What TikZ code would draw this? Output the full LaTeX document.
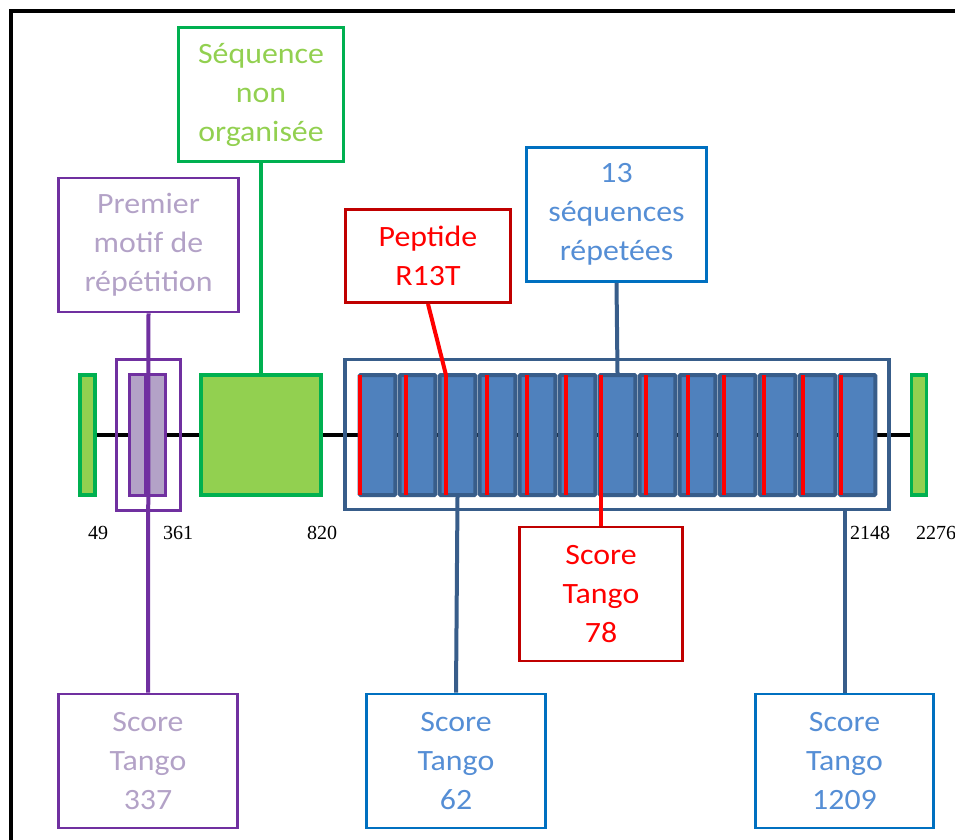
\documentclass[tikz,border=0pt]{standalone}
\usepackage{fontspec}
\setmainfont{Carlito}[FakeStretch=1.08]
\newfontfamily\numfont{Liberation Serif}
\usetikzlibrary{positioning}

\definecolor{greenfill}{HTML}{92D050}
\definecolor{greenline}{HTML}{00B050}
\definecolor{purpleline}{HTML}{7030A0}
\definecolor{purplefill}{HTML}{B3A2C7}
\definecolor{bluefill}{HTML}{4F81BD}
\definecolor{blueline}{HTML}{385D8A}
\definecolor{boxblue}{HTML}{0070C0}
\definecolor{textblue}{HTML}{558ED5}
\definecolor{darkred}{HTML}{C00000}

\begin{document}
\begin{tikzpicture}[
  x=1pt,y=-1pt,
  callout/.style={draw,line width=2.8pt,align=center,inner sep=0pt,minimum height=134,
    font=\fontsize{29.5}{39}\selectfont},
  greenblock/.style={draw=greenline,fill=greenfill,line width=3.5pt,inner sep=0pt,minimum height=120},
  repunit/.style={draw=blueline,fill=bluefill,line width=4pt,rounded corners=1pt,inner sep=0pt,
    minimum width=35.6,minimum height=120},
  firstunit/.style={draw=purpleline,fill=purplefill,line width=3pt,inner sep=0pt,minimum height=121},
  stripe/.style={red,line width=4pt},
  link/.style={line width=4pt},
  residue/.style={font=\numfont\fontsize{20}{20}\selectfont,inner sep=0pt}
]
\useasboundingbox (0,0) rectangle (955,839);
\draw[line width=4pt] (11,11) rectangle (962,850);

% protein backbone and domains
\node[greenblock,minimum width=15] (gl) at (87.5,435) {};
\node[greenblock,minimum width=15] (gr) at (919,435) {};
\draw[link,black] (gl.east) -- (gr.west);
\node[greenblock,minimum width=120] (gbig) at (261,435) {};

\node[firstunit,minimum width=16] (pa) at (137.5,435) {};
\node[firstunit,minimum width=17] (pb) at (157,435) {};
\node[draw=purpleline,line width=3pt,inner sep=0pt,minimum width=64,minimum height=151] (pbox) at (148.5,435) {};

\node[draw=blueline,line width=3.5pt,inner sep=0pt,minimum width=544,minimum height=150] (repeats) at (617,434.5) {};
\foreach \i in {1,...,13}
  \node[repunit] (rep\i) at ({377.5+40*(\i-1)},435) {};
\foreach \i/\x in {1/360,2/406,3/446,4/487,5/527,6/566,7/601,8/646,9/688,10/724,11/764,12/803,13/841} {
  \coordinate (s\i) at (\x,375);
  \draw[stripe] (s\i) -- (\x,495);
}

% callouts
\node[callout,draw=greenline,text=greenfill,minimum width=165] (seq) at (261,94.5)
  {Séquence\\non\\organisée};
\node[callout,draw=purpleline,text=purplefill,minimum width=180] (premier) at (148.5,245)
  {Premier\\motif de\\répétition};
\node[callout,draw=darkred,text=red,minimum width=165,minimum height=93] (pep) at (428,256)
  {Peptide\\R13T};
\node[callout,draw=boxblue,text=textblue,minimum width=180] (seq13) at (616.5,214.5)
  {13\\séquences\\répetées};
\node[callout,draw=darkred,text=red,minimum width=163] (tango78) at (601,594)
  {Score\\Tango\\78};
\node[callout,draw=purpleline,text=purplefill,minimum width=179] (tango337) at (148,761)
  {Score\\Tango\\337};
\node[callout,draw=boxblue,text=textblue,minimum width=179] (tango62) at (456,761)
  {Score\\Tango\\62};
\node[callout,draw=boxblue,text=textblue,minimum width=178] (tango1209) at (844.5,761)
  {Score\\Tango\\1209};

\draw[link,greenline] (seq.south) -- (gbig.north);
\draw[link,purpleline] (premier.south) -- (tango337.north);
\draw[link,red] (pep.south) -- (s3);
\draw[link,blueline] (seq13.south) -- (rep7.north);
\draw[link,red] (s7) -- (s7 |- tango78.north);
\draw[link,blueline] (rep3.south) -- (tango62.north);
\draw[link,blueline] (tango1209.north) -- (tango1209.north |- repeats.south);

\node[residue] (n49) at (98,533) {49};
\node[residue] (n361) at (178,533) {361};
\node[residue] (n820) at (322,533) {820};
\node[residue] (n2148) at (870,533) {2148};
\node[residue] (n2276) at (936,533) {2276};
\end{tikzpicture}
\end{document}
